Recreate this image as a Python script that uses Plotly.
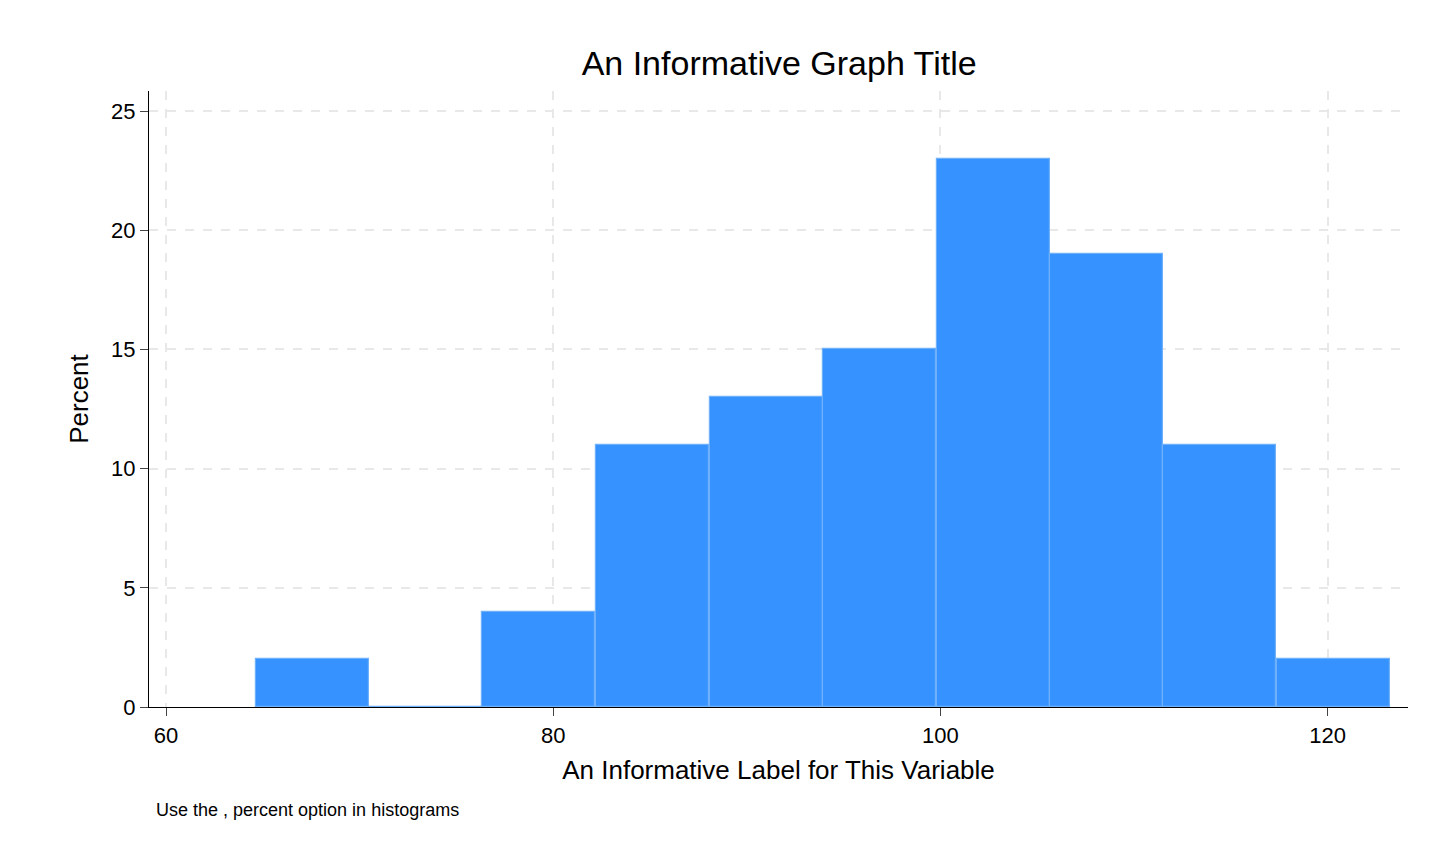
import plotly.graph_objects as go

# histogram bins
bin_left = [64.65, 70.49, 76.32, 82.21, 88.10, 93.94, 99.82, 105.66, 111.50, 117.39]
bin_width = 5.84
percent = [2, 0, 4, 11, 13, 15, 23, 19, 11, 2]

x_ticks = [60, 80, 100, 120]
y_ticks = [0, 5, 10, 15, 20, 25]

centers = [b + bin_width / 2 for b in bin_left]

fig = go.Figure()
fig.add_trace(go.Bar(
    x=centers, y=percent, width=[bin_width] * len(centers),
    marker=dict(color="#3592fe", line=dict(color="#6fb0fb", width=1.2)),
    showlegend=False,
))

font = "Liberation Sans, Arial, sans-serif"
fig.update_layout(
    width=1432, height=860,
    paper_bgcolor="white", plot_bgcolor="white",
    margin=dict(l=141, r=32, t=83, b=161),
    font=dict(family=font, size=22, color="black"),
    title=dict(text="An Informative Graph Title", x=0.5385, xanchor="center",
               y=0.936, yanchor="middle", font=dict(size=34)),
    bargap=0,
    xaxis=dict(
        range=[59.12, 124.15], tickvals=x_ticks, ticks="outside", ticklen=8,
        showline=True, linecolor="black", linewidth=1.2, zeroline=False,
        showgrid=True, gridcolor="#e8e8e8", griddash="dash", gridwidth=1.5,
        title=dict(text="An Informative Label for This Variable", standoff=14),
    ),
    yaxis=dict(
        range=[0, 25.84], tickvals=y_ticks, ticks="outside", ticklen=8,
        showline=True, linecolor="black", linewidth=1.2, zeroline=False,
        showgrid=True, gridcolor="#e8e8e8", griddash="dash", gridwidth=1.5,
        title=dict(text="Percent", standoff=14),
    ),
    annotations=[dict(
        text="Use the , percent option in histograms", xref="paper", yref="paper",
        x=0.004, y=-0.167, xanchor="left", yanchor="middle", showarrow=False,
        font=dict(size=18),
    )],
)

fig.write_html("out.html")
